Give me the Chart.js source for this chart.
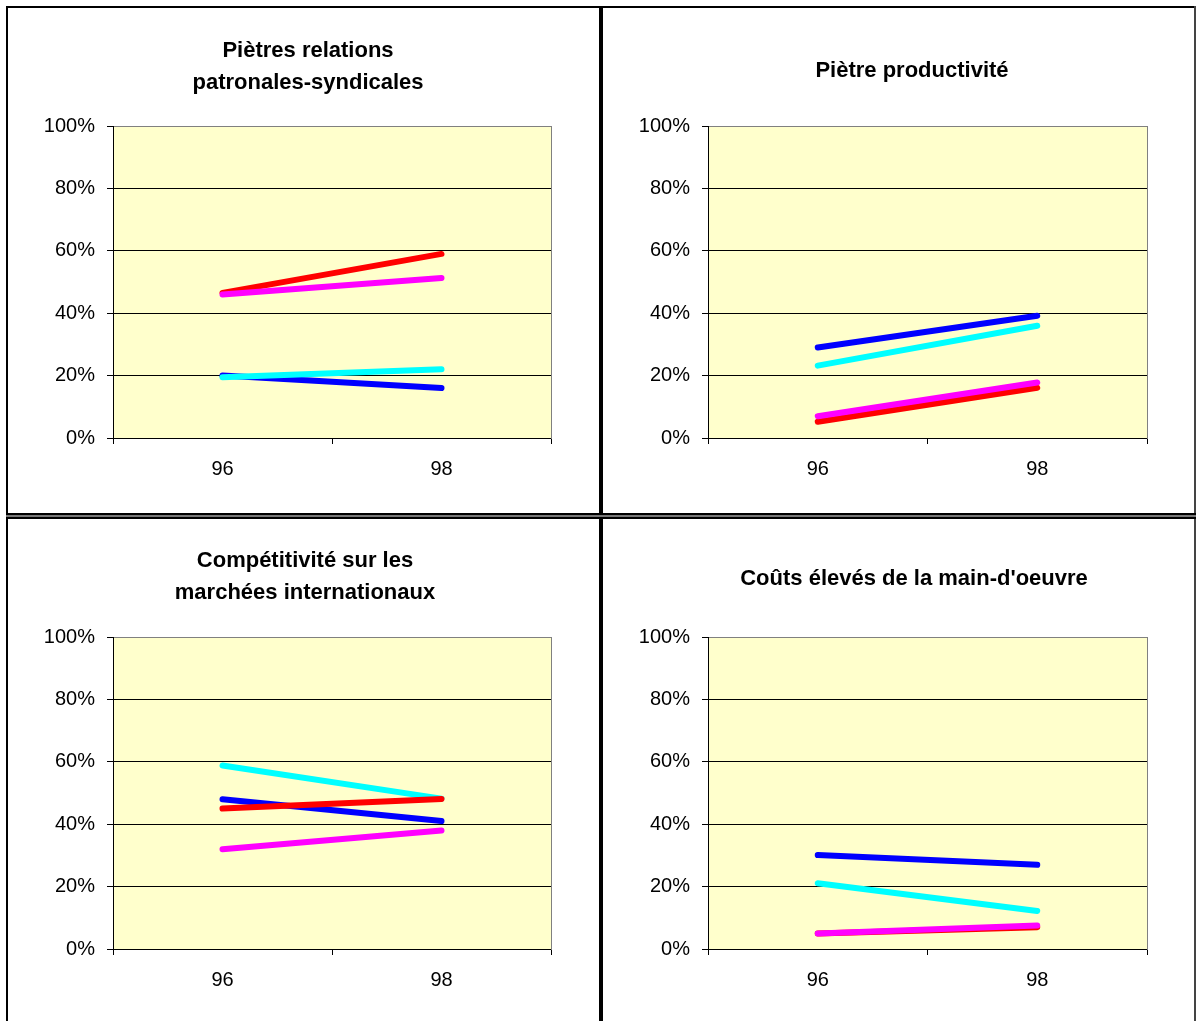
<!DOCTYPE html>
<html>
<head>
<meta charset="utf-8">
<script src="https://cdn.jsdelivr.net/npm/chart.js@4"></script>
<style>
body { margin: 0; background: #fff; width: 1197px; height: 1021px; overflow: hidden; position: relative; }
canvas { position: absolute; }
.rule { position: absolute; background: #000; }
</style>
</head>
<body>
<div class="rule" style="left:6px;top:6px;width:2px;height:1015px"></div>
<div class="rule" style="left:6px;top:6px;width:1190px;height:2px"></div>
<div class="rule" style="left:1194px;top:6px;width:2px;height:1015px;background:#444"></div>
<div class="rule" style="left:599px;top:6px;width:4px;height:1015px"></div>
<div class="rule" style="left:6px;top:513px;width:1190px;height:6px;background:#777;border-top:2px solid #000;border-bottom:2px solid #000;box-sizing:border-box"></div>

<canvas id="c1" width="590" height="500" style="left:8px;top:9px"></canvas>
<canvas id="c2" width="590" height="500" style="left:603px;top:9px"></canvas>
<canvas id="c3" width="590" height="500" style="left:8px;top:519px"></canvas>
<canvas id="c4" width="590" height="500" style="left:603px;top:519px"></canvas>

<script>
// years on the x axis
const years = ['96', '98'];
const yTicks = [0, 20, 40, 60, 80, 100];

// Pietres relations patronales-syndicales
const relationsBlue = [20, 16];
const relationsCyan = [19.5, 22];
const relationsMagenta = [46, 51.3];
const relationsRed = [46.5, 59];

// Pietre productivite
const productiviteBlue = [29, 39.2];
const productiviteCyan = [23.2, 36];
const productiviteMagenta = [7, 17.8];
const productiviteRed = [5.2, 16.1];

// Competitivite sur les marches internationaux
const competitiviteBlue = [48, 41];
const competitiviteCyan = [58.8, 48.2];
const competitiviteMagenta = [32, 38];
const competitiviteRed = [45, 48.1];

// Couts eleves de la main-d'oeuvre
const coutsBlue = [30.1, 27];
const coutsCyan = [21.1, 12.2];
const coutsMagenta = [5, 7.5];
const coutsRed = [5, 7];

const fontFamily = "'Liberation Sans', Arial, sans-serif";

// fill the plot area in pale yellow like the Excel charts
const plotBackground = {
    id: 'plotBackground',
    beforeDraw(chart) {
        const a = chart.chartArea;
        const c = chart.ctx;
        c.save();
        c.fillStyle = '#FFFFCC';
        c.fillRect(a.left, a.top, a.right - a.left, a.bottom - a.top);
        c.restore();
    }
};

// move the title block so it is centred on a given x (Excel centres it on the panel)
const titleCentre = {
    id: 'titleCentre',
    afterLayout(chart, args, opts) {
        const t = chart.titleBlock;
        if (!t || opts.x === undefined) return;
        const w = t.right - t.left;
        t.left = opts.x - w / 2;
        t.right = opts.x + w / 2;
    }
};

function makeChart(id, title, blue, cyan, magenta, red, pad) {
    // first dataset is drawn on top
    const series = [
        { data: magenta, borderColor: '#FF00FF' },
        { data: red, borderColor: '#FF0000' },
        { data: cyan, borderColor: '#00FFFF' },
        { data: blue, borderColor: '#0000FF' }
    ];
    for (let s of series) {
        s.borderWidth = 6;
        s.borderCapStyle = 'round';
        s.pointRadius = 0;
        s.tension = 0;
        s.fill = false;
    }

    return new Chart(document.getElementById(id).getContext('2d'), {
        type: 'line',
        data: { labels: years, datasets: series },
        plugins: [plotBackground, titleCentre],
        options: {
            responsive: false,
            animation: false,
            layout: { padding: { left: 0, right: pad.right, top: 0, bottom: pad.bottom } },
            plugins: {
                legend: { display: false },
                tooltip: { enabled: false },
                titleCentre: { x: pad.titleX },
                title: {
                    display: true,
                    text: title,
                    color: '#000',
                    font: { family: fontFamily, size: 22, weight: 'bold', lineHeight: '32px' },
                    padding: { top: pad.titleTop, bottom: pad.titleBottom }
                }
            },
            scales: {
                x: {
                    offset: true,
                    grid: { offset: true, drawOnChartArea: false, tickLength: 6, tickColor: '#000' },
                    border: { color: '#000', width: 1 },
                    ticks: { color: '#000', font: { family: fontFamily, size: 20 }, padding: 13, maxRotation: 0 },
                    afterFit(scale) { scale.height = 50; }
                },
                y: {
                    min: 0,
                    max: 100,
                    afterBuildTicks(scale) { scale.ticks = yTicks.map(v => ({ value: v })); },
                    ticks: { color: '#000', font: { family: fontFamily, size: 20 }, padding: 12, callback: v => v + '%' },
                    grid: {
                        color: ctx => (ctx.tick && ctx.tick.value === 100) ? '#808080' : '#000',
                        tickColor: '#000',
                        tickLength: 6
                    },
                    border: { color: '#000', width: 1 },
                    afterFit(scale) { scale.width = 105; }
                },
                yRight: {
                    position: 'right',
                    min: 0,
                    max: 100,
                    grid: { display: false },
                    ticks: { display: false },
                    border: { color: '#808080', width: 1 },
                    afterFit(scale) { scale.width = 0; }
                }
            }
        }
    });
}

makeChart('c1', ['Piètres relations', 'patronales-syndicales'],
    relationsBlue, relationsCyan, relationsMagenta, relationsRed,
    { right: 47, bottom: 21, titleX: 300, titleTop: 26, titleBottom: 27 });

makeChart('c2', 'Piètre productivité',
    productiviteBlue, productiviteCyan, productiviteMagenta, productiviteRed,
    { right: 46, bottom: 21, titleX: 309, titleTop: 46, titleBottom: 39 });

makeChart('c3', ['Compétitivité sur les', 'marchées internationaux'],
    competitiviteBlue, competitiviteCyan, competitiviteMagenta, competitiviteRed,
    { right: 47, bottom: 20, titleX: 297, titleTop: 26, titleBottom: 28 });

makeChart('c4', "Coûts élevés de la main-d'oeuvre",
    coutsBlue, coutsCyan, coutsMagenta, coutsRed,
    { right: 46, bottom: 20, titleX: 311, titleTop: 44, titleBottom: 42 });
</script>
</body>
</html>
